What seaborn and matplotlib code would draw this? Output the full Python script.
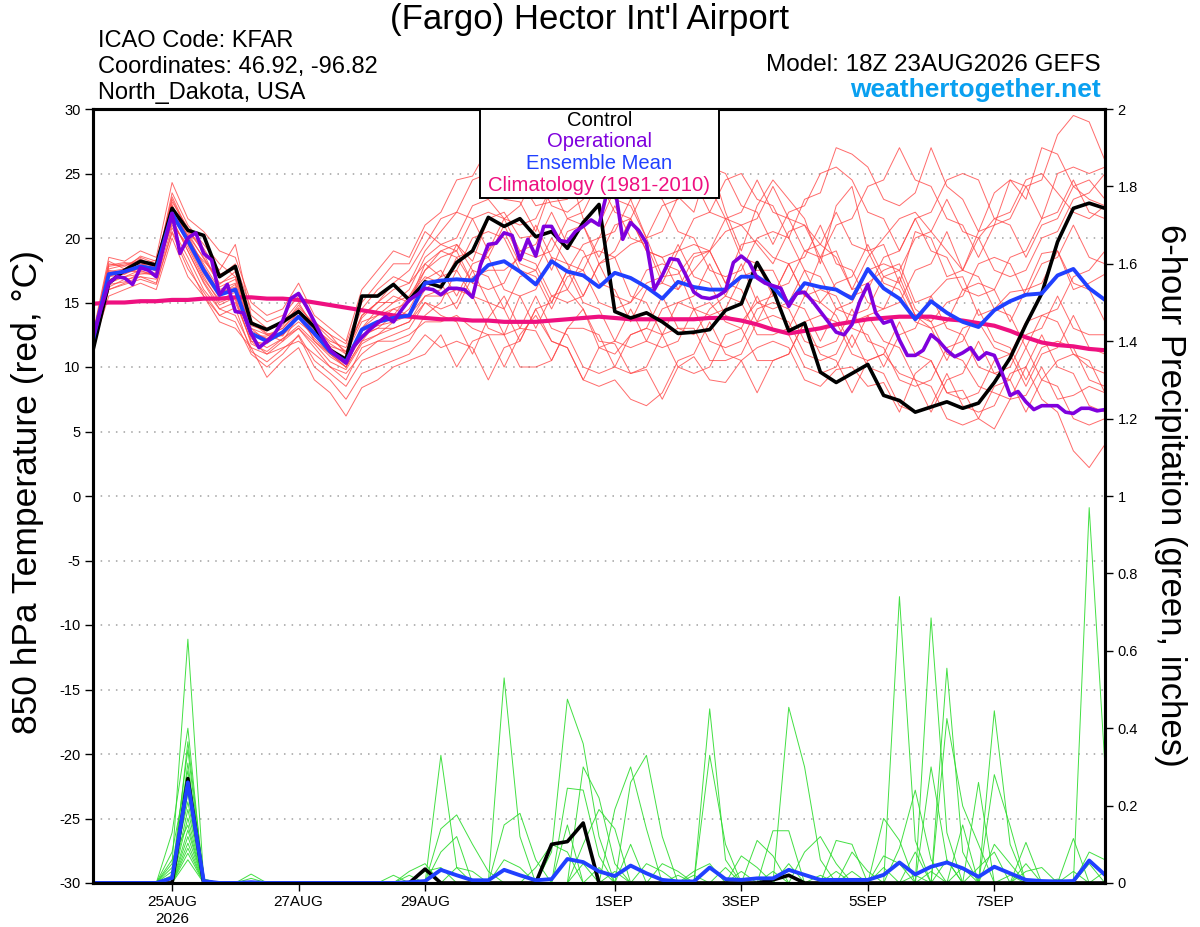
import matplotlib
matplotlib.use("Agg")
import matplotlib.pyplot as plt
from matplotlib.patches import Rectangle
import seaborn as sns
import numpy as np
import pandas as pd

# GEFS run 18Z 23AUG2026, 6-hourly steps out to 384 h (operational is 3-hourly)
run_start = "2026-08-23 18:00"
n_steps = 65

# 850 hPa temperature (degC)
control_temp = [11.3, 16.5, 17.5, 18.2, 17.9, 22.3, 20.6, 20.2, 17.0, 17.8,
                13.4, 12.9, 13.5, 14.3, 13.1, 11.3, 10.6, 15.5, 15.5, 16.4,
                15.2, 16.6, 16.2, 18.1, 19.0, 21.6, 20.9, 21.5, 20.1, 20.5,
                19.2, 21.2, 22.6, 14.3, 13.8, 14.2, 13.5, 12.6, 12.7, 12.9,
                14.4, 14.9, 18.1, 16.0, 12.8, 13.4, 9.6, 8.8, 9.5, 10.2,
                7.8, 7.4, 6.5, 6.9, 7.3, 6.8, 7.2, 8.8, 10.7, 13.3,
                15.7, 19.7, 22.3, 22.7, 22.3]

mean_temp = [12.1, 17.2, 17.4, 17.8, 17.6, 21.9, 19.8, 17.5, 15.6, 16.0,
             12.6, 12.0, 12.7, 13.9, 12.6, 11.2, 10.4, 12.9, 13.5, 13.8,
             14.0, 16.5, 16.7, 16.8, 16.7, 17.9, 18.2, 17.4, 16.4, 18.2,
             17.4, 17.1, 16.2, 17.3, 16.9, 16.2, 15.3, 16.6, 16.2, 16.0,
             16.0, 17.0, 17.0, 16.2, 14.9, 16.5, 16.2, 16.0, 15.3, 17.6,
             16.1, 15.3, 13.7, 15.1, 14.2, 13.5, 13.1, 14.4, 15.1, 15.6,
             15.7, 17.1, 17.6, 16.1, 15.2]

clim_temp = [14.9, 15.0, 15.0, 15.1, 15.1, 15.2, 15.2, 15.3, 15.3, 15.4,
             15.4, 15.3, 15.3, 15.2, 15.0, 14.8, 14.6, 14.4, 14.2, 14.0,
             13.9, 13.8, 13.7, 13.7, 13.6, 13.6, 13.5, 13.5, 13.5, 13.6,
             13.7, 13.8, 13.9, 13.8, 13.7, 13.7, 13.7, 13.7, 13.7, 13.8,
             13.8, 13.6, 13.3, 12.9, 12.6, 12.8, 13.0, 13.3, 13.5, 13.7,
             13.8, 13.9, 13.9, 13.9, 13.7, 13.6, 13.4, 13.2, 12.8, 12.3,
             11.9, 11.7, 11.6, 11.4, 11.3]

oper_temp = [12.3, 14.5, 16.5, 17.0, 16.9, 16.4, 17.7, 17.5, 17.0, 19.5,
             21.9, 18.8, 20.0, 20.4, 18.8, 18.3, 15.6, 16.4, 14.3, 14.2,
             12.6, 11.5, 12.0, 12.6, 13.6, 15.3, 15.7, 14.7, 13.5, 12.3,
             11.3, 10.8, 10.3, 11.6, 12.3, 12.9, 13.4, 13.9, 13.5, 14.4,
             15.2, 15.6, 16.1, 16.0, 15.6, 16.1, 16.1, 16.0, 15.4, 17.9,
             19.5, 19.6, 20.4, 20.2, 18.3, 19.9, 18.6, 20.9, 20.9, 19.8,
             19.7, 20.5, 20.9, 21.4, 21.0, 23.5, 24.0, 19.9, 21.2, 20.6,
             19.6, 16.0, 17.1, 18.4, 18.3, 17.1, 15.8, 15.4, 15.3, 15.5,
             15.9, 18.1, 18.6, 18.1, 16.9, 16.5, 16.3, 16.1, 14.7, 15.7,
             15.8, 15.1, 14.3, 13.5, 12.7, 12.5, 13.3, 15.1, 16.4, 14.2,
             13.4, 13.6, 12.1, 10.9, 10.9, 11.3, 12.5, 12.0, 11.3, 10.8,
             11.1, 11.5, 10.6, 11.1, 10.9, 9.5, 7.8, 8.1, 7.3, 6.7,
             7.0, 7.0, 7.0, 6.5, 6.4, 6.8, 6.8, 6.6, 6.7]

member_temp = [
    [12.5, 18.0, 17.8, 18.5, 18.0, 23.0, 20.5, 19.0, 17.5, 19.5, 14.0, 13.0, 13.5, 15.0, 13.0, 12.0, 11.5, 14.5, 16.0, 17.0, 16.5, 19.0,
     20.5, 22.0, 24.5, 25.0, 23.0, 22.8, 20.5, 24.0, 25.5, 21.5, 21.0, 23.8, 23.0, 20.0, 20.5, 23.2, 22.0, 26.0, 22.0, 19.0, 22.5,
     24.5, 23.0, 21.5, 18.0, 22.5, 24.0, 19.0, 19.5, 16.5, 20.5, 20.0, 17.0, 17.5, 20.5, 21.0, 24.5, 23.0, 27.0, 26.5, 24.0, 23.0, 22.5],
    [12.0, 16.5, 17.0, 17.5, 17.0, 21.5, 19.0, 16.5, 14.5, 15.0, 12.0, 11.0, 12.0, 13.0, 11.5, 10.0, 9.0, 11.5, 12.0, 12.5, 13.0, 15.0,
     14.0, 13.5, 11.0, 13.8, 15.5, 13.0, 12.8, 10.5, 13.0, 14.5, 12.0, 11.8, 9.5, 9.8, 7.5, 10.0, 10.8, 9.0, 8.8, 10.5, 11.5,
     12.0, 11.5, 9.0, 8.5, 9.8, 10.0, 8.5, 8.8, 6.5, 9.5, 10.5, 8.0, 8.2, 6.0, 5.2, 7.5, 7.8, 10.0, 7.5, 7.8, 8.5, 8.0],
    [12.3, 17.5, 17.2, 18.0, 17.8, 22.5, 20.0, 18.0, 16.0, 16.5, 13.0, 12.5, 13.0, 14.5, 12.0, 11.0, 10.0, 13.0, 14.5, 15.5, 15.0, 17.5,
     19.0, 19.5, 18.2, 21.5, 22.0, 20.0, 20.2, 17.5, 20.5, 21.0, 18.0, 18.5, 19.5, 20.0, 17.0, 17.2, 18.8, 19.0, 16.5, 19.5, 19.8,
     18.5, 18.0, 15.5, 18.5, 19.0, 16.0, 16.5, 17.5, 18.0, 15.0, 15.5, 16.8, 17.0, 14.0, 14.5, 15.8, 16.0, 18.8, 19.0, 16.0, 16.5, 17.2],
    [11.8, 16.0, 16.5, 17.0, 16.5, 20.5, 18.0, 15.5, 14.0, 13.5, 11.0, 10.0, 11.0, 12.5, 10.5, 9.5, 8.5, 10.5, 11.0, 11.5, 12.0, 14.0,
     15.0, 17.5, 15.5, 15.0, 12.5, 15.5, 16.0, 18.5, 16.0, 14.5, 11.5, 11.0, 12.5, 13.0, 15.5, 13.0, 12.5, 14.5, 15.5, 18.0, 15.0,
     14.5, 15.0, 17.5, 15.0, 14.0, 11.5, 14.0, 14.5, 17.0, 14.0, 13.0, 10.5, 13.0, 13.5, 11.5, 11.0, 8.5, 11.0, 11.5, 14.0, 11.5, 11.0],
    [12.6, 18.5, 18.2, 19.0, 18.5, 24.3, 21.5, 20.5, 19.0, 18.5, 15.0, 14.0, 14.5, 16.5, 14.0, 13.0, 12.0, 16.0, 17.5, 19.0, 18.5, 21.0,
     22.0, 24.5, 24.8, 27.0, 25.0, 24.5, 22.5, 22.8, 23.0, 25.5, 25.8, 24.0, 23.5, 26.0, 26.5, 25.0, 24.5, 22.0, 24.5, 25.0, 23.0,
     22.5, 20.0, 23.0, 23.5, 27.0, 26.5, 25.5, 23.0, 22.5, 23.5, 27.0, 24.0, 23.0, 20.5, 23.5, 24.5, 24.0, 21.5, 25.0, 25.5, 25.0, 25.5],
    [12.2, 17.0, 17.6, 17.8, 17.5, 21.0, 19.5, 17.0, 15.0, 15.5, 12.5, 12.0, 12.5, 13.5, 12.5, 11.5, 10.5, 12.5, 13.0, 14.0, 15.5, 17.0,
     16.5, 14.5, 17.0, 17.5, 17.5, 18.5, 21.0, 18.5, 18.0, 15.5, 18.0, 19.0, 21.5, 19.0, 18.5, 19.0, 21.5, 22.0, 21.5, 18.5, 18.0,
     15.5, 18.0, 18.5, 21.0, 18.0, 17.5, 15.0, 14.5, 15.0, 17.5, 18.0, 20.5, 17.5, 17.0, 14.5, 14.0, 11.5, 14.0, 14.5, 17.0, 17.5, 19.0],
    [11.6, 15.5, 16.0, 16.5, 16.0, 20.0, 17.0, 15.5, 13.5, 13.0, 11.5, 9.2, 10.5, 11.5, 9.0, 8.0, 6.2, 8.4, 9.0, 10.0, 10.5, 11.0,
     12.5, 10.0, 12.0, 12.5, 12.5, 10.0, 10.0, 10.5, 13.0, 13.0, 12.5, 10.0, 9.5, 10.0, 12.5, 13.0, 13.0, 10.5, 10.5, 11.0, 13.5,
     14.0, 13.5, 11.0, 10.5, 11.0, 13.5, 14.0, 12.0, 11.5, 9.0, 8.5, 6.0, 5.5, 6.0, 8.5, 9.0, 11.5, 9.0, 8.5, 6.0, 5.5, 6.0],
    [12.4, 17.8, 18.0, 18.2, 17.9, 22.0, 20.2, 18.5, 16.5, 17.0, 13.5, 12.5, 12.0, 14.0, 12.5, 11.0, 10.0, 12.0, 13.5, 14.5, 14.0, 16.0,
     17.0, 19.5, 17.5, 17.0, 14.5, 17.0, 17.5, 20.0, 18.0, 17.5, 15.0, 14.5, 15.0, 17.5, 18.0, 17.5, 14.5, 14.0, 14.5, 17.0, 17.5,
     17.5, 15.0, 14.5, 12.0, 14.5, 15.0, 17.5, 18.0, 17.5, 14.5, 13.5, 11.0, 10.5, 8.5, 8.0, 7.5, 10.0, 7.5, 6.5, 3.5, 2.2, 4.0],
    [12.0, 17.3, 17.5, 18.3, 17.7, 23.5, 21.0, 19.5, 18.0, 17.0, 13.0, 12.0, 12.5, 14.0, 13.5, 12.5, 11.0, 14.0, 15.0, 16.5, 17.5, 19.5,
     21.5, 22.0, 21.5, 19.0, 21.5, 22.5, 25.0, 22.5, 22.0, 23.0, 25.5, 23.0, 22.5, 20.0, 22.5, 23.0, 25.5, 25.5, 25.0, 22.5, 22.0,
     19.5, 22.0, 22.5, 25.0, 25.5, 24.5, 22.0, 21.5, 19.0, 21.5, 22.0, 24.5, 25.0, 24.5, 21.5, 21.0, 18.5, 21.0, 21.5, 24.0, 24.5, 23.0],
    [11.9, 16.8, 17.0, 17.2, 17.3, 21.2, 19.3, 16.8, 15.2, 15.8, 12.2, 11.5, 12.2, 13.2, 12.0, 10.8, 10.0, 12.0, 12.5, 13.0, 13.5, 15.5,
     16.0, 18.5, 19.0, 18.5, 16.0, 15.5, 13.0, 15.5, 16.0, 18.5, 19.0, 18.5, 15.5, 15.0, 12.5, 15.0, 15.5, 18.0, 15.5, 15.0, 12.5,
     12.5, 13.0, 15.5, 16.0, 15.5, 13.0, 12.5, 10.0, 12.5, 13.0, 15.5, 13.0, 12.5, 10.0, 9.5, 10.0, 12.5, 13.0, 15.5, 13.0, 12.5, 12.5],
    [12.3, 17.6, 17.9, 18.1, 17.4, 22.8, 20.8, 18.8, 16.2, 16.8, 12.8, 12.2, 13.2, 14.8, 13.2, 11.8, 11.0, 13.5, 14.0, 14.5, 15.0, 18.0,
     19.0, 18.5, 16.5, 19.0, 20.5, 18.0, 17.5, 15.0, 17.5, 19.5, 20.0, 22.5, 20.0, 19.5, 16.5, 16.0, 17.5, 19.0, 20.5, 21.0, 19.5,
     18.0, 20.5, 21.0, 19.5, 18.5, 16.0, 18.5, 20.0, 21.5, 22.0, 20.5, 19.0, 17.5, 20.0, 21.5, 22.0, 24.5, 25.0, 23.5, 22.0, 21.5, 22.5],
    [11.7, 16.2, 16.8, 17.0, 16.8, 20.8, 18.5, 16.0, 14.5, 14.0, 11.5, 11.0, 11.5, 12.0, 11.0, 10.0, 9.5, 11.0, 12.0, 12.0, 12.5, 13.5,
     13.5, 14.0, 13.0, 12.5, 10.0, 12.5, 14.0, 12.0, 11.5, 9.0, 11.5, 12.0, 14.5, 12.0, 11.5, 12.0, 14.5, 15.0, 13.5, 13.0, 10.5,
     10.5, 11.0, 13.5, 11.0, 10.5, 8.0, 10.5, 11.0, 9.5, 9.0, 6.5, 9.0, 9.5, 12.0, 9.5, 9.0, 6.5, 9.0, 10.5, 11.0, 10.0, 9.5],
    [12.2, 17.1, 17.3, 17.6, 17.9, 22.2, 20.2, 17.8, 15.8, 16.2, 12.4, 12.4, 13.0, 14.2, 12.8, 11.4, 10.6, 12.8, 13.2, 13.5, 14.5, 16.8,
     17.5, 15.5, 18.0, 18.5, 21.0, 18.5, 18.0, 15.5, 15.0, 15.5, 18.0, 15.5, 15.0, 16.5, 17.0, 19.5, 17.0, 16.5, 14.0, 13.5, 15.0,
     15.5, 18.0, 15.5, 15.0, 16.5, 17.0, 19.5, 17.0, 16.5, 14.0, 13.5, 15.0, 15.5, 18.0, 18.5, 18.0, 15.5, 18.0, 18.5, 21.0, 18.5, 18.0],
    [12.4, 18.2, 17.6, 18.6, 18.2, 22.6, 19.6, 18.2, 17.0, 18.0, 14.5, 13.5, 14.0, 15.5, 13.5, 12.5, 11.8, 15.0, 16.5, 18.0, 18.0, 20.5,
     19.5, 20.0, 22.5, 23.0, 21.5, 21.0, 21.5, 24.0, 21.5, 21.0, 18.5, 21.0, 21.5, 24.0, 24.5, 27.0, 24.5, 24.0, 21.5, 21.0, 21.5,
     24.0, 21.5, 21.0, 18.5, 21.0, 21.5, 24.0, 24.5, 27.0, 24.5, 24.0, 21.5, 21.0, 18.5, 21.0, 21.5, 24.0, 24.5, 28.0, 29.5, 29.0, 26.0],
    [12.1, 16.6, 17.4, 17.4, 17.2, 21.6, 19.8, 17.2, 15.4, 15.2, 12.0, 11.8, 12.8, 13.8, 12.2, 11.0, 10.2, 12.4, 13.0, 13.0, 13.5, 15.0,
     14.5, 15.0, 17.5, 15.0, 14.5, 12.0, 14.5, 15.0, 17.5, 15.0, 14.5, 12.0, 11.5, 12.0, 14.5, 15.0, 14.5, 12.0, 11.5, 12.0, 14.5,
     15.0, 14.5, 12.0, 11.5, 12.0, 14.5, 12.0, 11.5, 9.0, 8.5, 9.0, 11.5, 12.0, 14.5, 12.0, 11.5, 9.0, 11.5, 12.0, 11.5, 9.0, 8.5],
    [12.5, 17.9, 18.1, 17.9, 18.3, 22.4, 20.4, 18.4, 16.4, 17.4, 13.2, 12.8, 13.4, 14.6, 13.4, 12.2, 11.2, 14.0, 15.0, 15.0, 15.5, 17.5,
     18.5, 19.0, 21.5, 22.0, 21.5, 19.0, 18.5, 19.0, 21.5, 22.0, 24.5, 22.0, 21.5, 19.0, 18.5, 16.0, 18.5, 19.0, 21.5, 22.0, 24.5,
     22.0, 21.5, 19.0, 18.5, 16.0, 15.5, 16.0, 18.5, 19.0, 21.5, 19.0, 18.5, 16.0, 15.5, 16.0, 18.5, 19.0, 21.5, 22.0, 24.5, 22.0, 21.5],
    [11.8, 16.4, 16.6, 17.3, 17.1, 21.4, 19.0, 16.6, 14.8, 15.4, 11.8, 11.2, 12.2, 13.0, 11.8, 10.4, 9.8, 11.8, 12.5, 13.5, 14.0, 15.5,
     15.5, 16.0, 15.5, 13.0, 12.5, 13.0, 15.5, 13.0, 12.5, 10.0, 9.5, 10.0, 12.5, 13.0, 12.5, 10.0, 9.5, 10.0, 12.5, 13.0, 15.5,
     13.0, 12.5, 10.0, 9.5, 10.0, 12.5, 10.0, 9.5, 7.0, 6.5, 7.0, 9.5, 7.0, 6.5, 7.0, 9.5, 10.0, 12.5, 10.0, 9.5, 7.0, 6.5],
    [12.0, 17.0, 17.2, 17.7, 17.5, 21.8, 19.6, 17.4, 15.6, 16.4, 12.6, 12.2, 12.6, 14.0, 12.4, 11.2, 10.4, 13.0, 14.0, 15.0, 16.0, 18.5,
     19.5, 19.0, 16.5, 16.0, 16.5, 19.0, 19.5, 22.0, 19.5, 19.0, 16.5, 16.0, 13.5, 16.0, 16.5, 19.0, 19.5, 19.0, 16.5, 16.0, 13.5,
     16.0, 16.5, 19.0, 19.5, 22.0, 19.5, 19.0, 16.5, 16.0, 13.5, 13.0, 13.5, 16.0, 16.5, 16.0, 13.5, 16.0, 16.5, 19.0, 16.5, 16.0, 13.5],
    [12.3, 17.4, 17.6, 18.4, 17.6, 23.2, 20.6, 19.2, 17.2, 17.6, 13.6, 12.6, 12.4, 14.4, 13.0, 11.6, 11.2, 13.8, 15.0, 16.0, 16.5, 18.0,
     17.0, 17.5, 20.0, 20.5, 20.0, 17.5, 17.0, 14.5, 17.0, 17.5, 20.0, 20.5, 23.0, 23.5, 23.0, 20.5, 20.0, 17.5, 17.0, 17.5, 20.0,
     20.5, 20.0, 17.5, 17.0, 14.5, 14.0, 14.5, 17.0, 17.5, 20.0, 20.5, 23.0, 20.5, 20.0, 17.5, 17.0, 17.5, 20.0, 20.5, 23.0, 23.5, 25.0],
    [11.9, 16.0, 16.4, 16.8, 16.4, 20.4, 17.6, 15.8, 14.0, 14.6, 11.2, 10.4, 11.4, 12.4, 10.0, 9.0, 7.5, 9.5, 10.0, 10.5, 11.0, 12.5,
     11.5, 12.0, 11.5, 9.0, 11.5, 12.0, 14.5, 12.0, 11.5, 9.0, 8.5, 9.0, 7.5, 7.0, 8.0, 10.5, 11.0, 13.5, 11.0, 10.5, 8.0,
     10.5, 11.0, 13.5, 14.0, 13.5, 11.0, 10.5, 11.0, 13.5, 11.0, 10.5, 8.0, 7.5, 8.0, 10.5, 11.0, 13.5, 14.0, 13.5, 11.0, 10.5, 8.0],
]

# 6-hour precipitation (inches)
mean_precip = [0, 0, 0, 0, 0, 0.013, 0.26, 0.005, 0, 0,
               0.002, 0, 0, 0, 0, 0, 0, 0, 0, 0,
               0.002, 0.005, 0.034, 0.02, 0.007, 0.007, 0.034, 0.02, 0.007, 0.01,
               0.062, 0.054, 0.03, 0.018, 0.045, 0.025, 0.008, 0.004, 0.004, 0.04,
               0.01, 0.008, 0.012, 0.012, 0.034, 0.021, 0.008, 0.008, 0.008, 0.008,
               0.021, 0.053, 0.022, 0.042, 0.053, 0.038, 0.016, 0.042, 0.025, 0.008,
               0.005, 0.004, 0.005, 0.058, 0.021]

# only the steps with rain are listed, every other step is zero
control_precip_events = {6: 0.27, 21: 0.036, 29: 0.10, 30: 0.107, 31: 0.155, 43: 0.008, 44: 0.02}

member_precip_events = [
    {5: 0.05, 6: 0.63, 7: 0.01, 22: 0.33, 23: 0.04, 39: 0.45, 40: 0.06, 63: 0.97, 64: 0.30},
    {5: 0.13, 6: 0.40, 26: 0.53, 27: 0.12, 51: 0.74, 52: 0.11, 62: 0.03},
    {6: 0.365, 7: 0.01, 29: 0.08, 30: 0.475, 31: 0.36, 32: 0.12, 53: 0.685, 54: 0.13},
    {5: 0.03, 6: 0.344, 30: 0.245, 31: 0.24, 32: 0.07, 44: 0.454, 45: 0.30, 46: 0.06},
    {6: 0.31, 10: 0.023, 33: 0.19, 34: 0.30, 35: 0.14, 54: 0.555, 55: 0.08},
    {5: 0.08, 6: 0.29, 22: 0.14, 23: 0.176, 24: 0.10, 25: 0.03, 57: 0.445, 58: 0.10},
    {6: 0.27, 31: 0.30, 32: 0.22, 33: 0.05, 39: 0.33, 40: 0.10, 54: 0.425, 55: 0.199, 56: 0.10},
    {6: 0.266, 7: 0.005, 34: 0.26, 35: 0.33, 36: 0.12, 53: 0.30, 54: 0.06, 57: 0.28, 58: 0.147},
    {5: 0.04, 6: 0.25, 20: 0.03, 21: 0.05, 26: 0.15, 27: 0.18, 28: 0.06, 43: 0.135, 44: 0.135, 56: 0.26},
    {6: 0.232, 31: 0.10, 32: 0.19, 33: 0.14, 42: 0.11, 43: 0.07, 50: 0.167, 51: 0.11},
    {5: 0.02, 6: 0.21, 22: 0.08, 23: 0.12, 30: 0.15, 47: 0.11, 48: 0.10, 59: 0.105},
    {6: 0.19, 28: 0.04, 29: 0.10, 30: 0.08, 45: 0.08, 46: 0.12, 47: 0.05, 55: 0.15, 62: 0.115},
    {6: 0.168, 19: 0.02, 36: 0.05, 37: 0.03, 41: 0.07, 42: 0.04, 51: 0.09, 52: 0.24, 53: 0.06},
    {5: 0.06, 6: 0.15, 10: 0.012, 21: 0.03, 22: 0.04, 34: 0.10, 50: 0.07, 51: 0.05, 63: 0.08, 64: 0.06},
    {6: 0.137, 26: 0.06, 27: 0.04, 38: 0.03, 39: 0.05, 48: 0.08, 49: 0.03, 57: 0.10, 58: 0.05},
    {6: 0.12, 23: 0.04, 24: 0.03, 44: 0.05, 52: 0.08, 56: 0.04, 57: 0.08, 59: 0.05, 64: 0.03},
    {6: 0.103, 35: 0.05, 36: 0.03, 40: 0.04, 48: 0.03, 50: 0.04, 54: 0.06, 63: 0.05},
    {6: 0.09, 31: 0.05, 38: 0.02, 41: 0.03, 55: 0.04, 59: 0.03, 60: 0.04},
    {6: 0.077, 32: 0.04, 43: 0.03, 46: 0.02, 53: 0.03, 58: 0.02},
    {6: 0.06, 20: 0.02, 33: 0.03, 37: 0.02, 47: 0.03, 52: 0.02, 61: 0.01},
]

tick_dates = ["2026-08-25", "2026-08-27", "2026-08-29", "2026-09-01",
              "2026-09-03", "2026-09-05", "2026-09-07"]
tick_labels = ["25AUG\n2026", "27AUG", "29AUG", "1SEP", "3SEP", "5SEP", "7SEP"]
temp_ticks = list(range(-30, 31, 5))
precip_ticks = [0, 0.2, 0.4, 0.6, 0.8, 1, 1.2, 1.4, 1.6, 1.8, 2]
precip_tick_labels = ["0", "0.2", "0.4", "0.6", "0.8", "1", "1.2", "1.4", "1.6", "1.8", "2"]

legend_items = [("Control", "black"), ("Operational", "#7f00dd"),
                ("Ensemble Mean", "#2040ff"), ("Climatology (1981-2010)", "#ee1080")]

for series in [control_temp, mean_temp, clim_temp, mean_precip] + member_temp:
    assert len(series) == n_steps, len(series)

# ---- frames ----
times = pd.date_range(run_start, periods=n_steps, freq="6h")
oper_times = pd.date_range(run_start, periods=len(oper_temp), freq="3h")

control_precip = [control_precip_events.get(i, 0.0) for i in range(n_steps)]
member_precip = [[ev.get(i, 0.0) for i in range(n_steps)] for ev in member_precip_events]

n_mem = len(member_temp)
temp_long = pd.DataFrame({
    "time": np.tile(times.values, n_mem),
    "value": np.concatenate(member_temp),
    "member": np.repeat(np.arange(n_mem), n_steps),
})
precip_long = pd.DataFrame({
    "time": np.tile(times.values, len(member_precip)),
    "value": np.concatenate(member_precip),
    "member": np.repeat(np.arange(len(member_precip)), n_steps),
})

# ---- plot ----
sns.set_style("ticks")
plt.rcParams["font.family"] = ["Liberation Sans", "DejaVu Sans"]
plt.rcParams["text.color"] = "black"
plt.rcParams["axes.labelcolor"] = "black"
plt.rcParams["xtick.color"] = "black"
plt.rcParams["ytick.color"] = "black"

W, H = 1200, 927
fig = plt.figure(figsize=(W / 100, H / 100), dpi=100)
ax = fig.add_axes([93 / W, 44 / H, 1012 / W, 774 / H])
ax2 = ax.twinx()

red = "#ff4646"
green = "#2edc2e"
purple = "#7f00dd"
blue = "#2040ff"
clim_col = "#ee1080"

sns.lineplot(data=temp_long, x="time", y="value", units="member", estimator=None,
             color=red, linewidth=0.7, alpha=0.8, ax=ax, legend=False)
sns.lineplot(x=times, y=clim_temp, color=clim_col, linewidth=3.0, ax=ax)
sns.lineplot(x=times, y=control_temp, color="black", linewidth=2.6, ax=ax)
sns.lineplot(x=times, y=mean_temp, color=blue, linewidth=2.8, ax=ax)
sns.lineplot(x=oper_times, y=oper_temp, color=purple, linewidth=2.6, ax=ax)

sns.lineplot(data=precip_long, x="time", y="value", units="member", estimator=None,
             color=green, linewidth=0.7, alpha=0.9, ax=ax2, legend=False)
sns.lineplot(x=times, y=control_precip, color="black", linewidth=2.6, ax=ax2)
sns.lineplot(x=times, y=mean_precip, color=blue, linewidth=2.8, ax=ax2)

ax.set_xlim(times[0], times[-1])
ax.set_ylim(-30, 30)
ax2.set_ylim(0, 2)

ax.set_xticks(pd.to_datetime(tick_dates))
ax.set_xticklabels(tick_labels)
ax.set_yticks(temp_ticks)
ax.set_yticklabels([str(t) for t in temp_ticks])
ax2.set_yticks(precip_ticks)
ax2.set_yticklabels(precip_tick_labels)

ax.set_xlabel("")
ax.set_ylabel("")
ax2.set_ylabel("")

ax.grid(axis="y", linestyle=(0, (1, 4)), color="#a0a0a0", linewidth=1.1)
ax.grid(axis="x", visible=False)
ax.set_axisbelow(True)

for a in (ax, ax2):
    for s in a.spines.values():
        s.set_linewidth(2.2)
        s.set_color("black")
ax.tick_params(axis="x", direction="out", length=6, width=1, labelsize=11, pad=3)
ax.tick_params(axis="y", direction="out", length=6, width=1, labelsize=10.5, pad=3)
ax2.tick_params(axis="y", direction="out", length=6, width=1, labelsize=10.5, pad=3)

# header text
fig.text(590 / W, 1 - 20 / H, "(Fargo) Hector Int'l Airport", ha="center", va="center", fontsize=25)
fig.text(98 / W, 1 - 47 / H, "ICAO Code: KFAR", ha="left", va="baseline", fontsize=17)
fig.text(98 / W, 1 - 73 / H, "Coordinates: 46.92, -96.82", ha="left", va="baseline", fontsize=17)
fig.text(98 / W, 1 - 99 / H, "North_Dakota, USA", ha="left", va="baseline", fontsize=17)
fig.text(1101 / W, 1 - 71 / H, "Model: 18Z 23AUG2026 GEFS", ha="right", va="baseline", fontsize=17.5)
fig.text(1101 / W, 1 - 97 / H, "weathertogether.net", ha="right", va="baseline",
         fontsize=19, fontweight="bold", color="#0aa0f0")

fig.text(28 / W, 1 - 492 / H, "850 hPa Temperature (red, \u00b0C)", rotation=90,
         ha="center", va="center", fontsize=25.5)
fig.text(1170 / W, 1 - 495 / H, "6-hour Precipitation (green, inches)", rotation=270,
         ha="center", va="center", fontsize=25)

# legend box at the top of the plot
fig.add_artist(Rectangle((480 / W, 1 - 198 / H), 239 / W, 89 / H, transform=fig.transFigure,
                         facecolor="white", edgecolor="black", linewidth=1.4, zorder=5))
for k, (label, col) in enumerate(legend_items):
    fig.text(599.5 / W, 1 - (120 + 21.8 * k) / H, label, ha="center", va="center",
             fontsize=14.6, color=col, zorder=6)

fig.savefig("out.png", dpi=100)
plt.close(fig)
